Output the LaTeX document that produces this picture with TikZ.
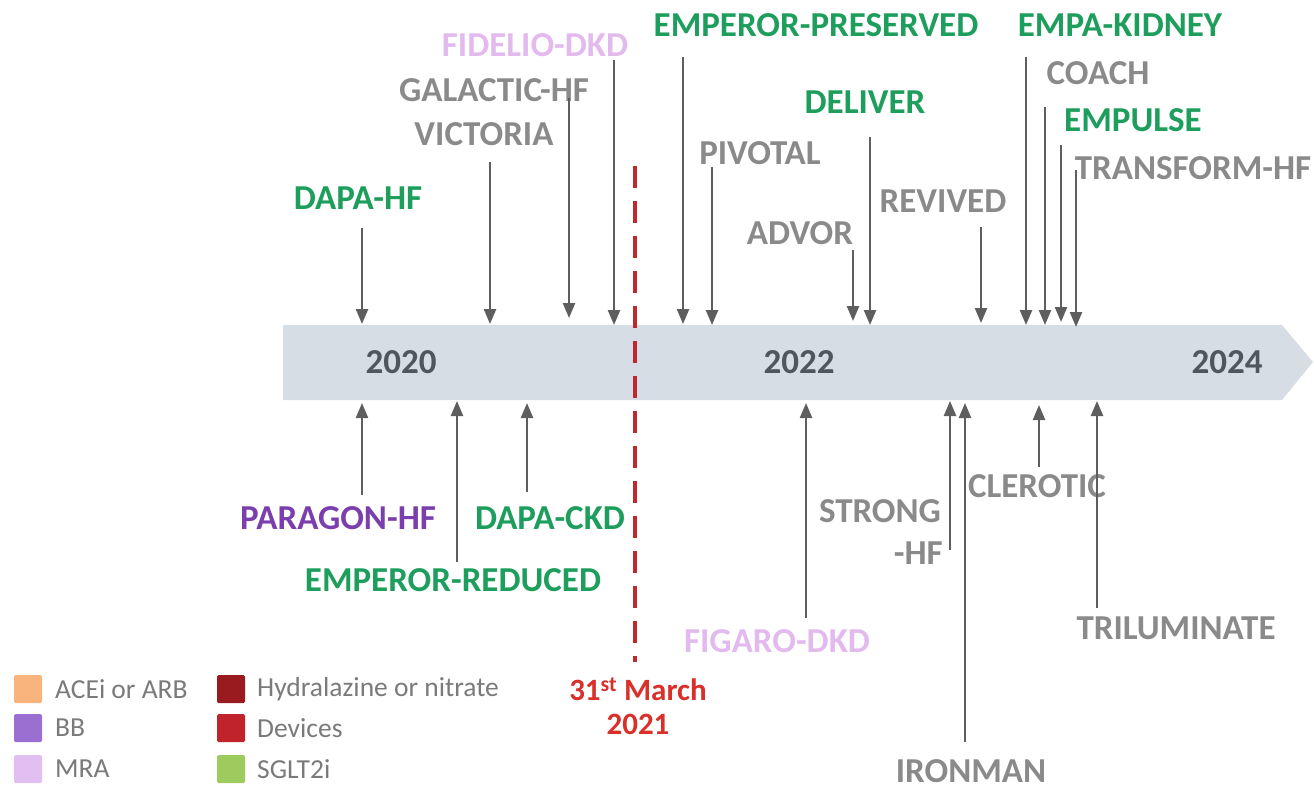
\documentclass[tikz,border=0pt]{standalone}
\usepackage{fontspec}
\setmainfont{Carlito}
\usetikzlibrary{arrows.meta}
\definecolor{bandfill}{HTML}{D6DDE4}
\definecolor{yeargray}{HTML}{4F565E}
\definecolor{txtgray}{HTML}{8A8A8A}
\definecolor{arrgray}{HTML}{5E5E5E}
\definecolor{trialgreen}{HTML}{1E9E5C}
\definecolor{trialpurple}{HTML}{7A3FAD}
\definecolor{trialpink}{HTML}{E2BAEE}
\definecolor{datered}{HTML}{D9302A}
\definecolor{dashred}{HTML}{C0282D}
\definecolor{legtxt}{HTML}{7A7A7A}
\definecolor{cAce}{HTML}{F8B47C}
\definecolor{cBb}{HTML}{9B6FD2}
\definecolor{cMra}{HTML}{E2BFF3}
\definecolor{cHyd}{HTML}{991B20}
\definecolor{cDev}{HTML}{C1232A}
\definecolor{cSglt}{HTML}{9DCB5E}
\tikzset{
  trial/.style={font=\fontsize{35}{38}\selectfont\bfseries, text=txtgray, inner sep=0pt},
  grn/.style={trial, text=trialgreen},
  pur/.style={trial, text=trialpurple},
  pnk/.style={trial, text=trialpink},
  year/.style={font=\fontsize{35}{38}\selectfont\bfseries, text=yeargray, inner sep=0pt},
  arr/.style={draw=arrgray, line width=2.4pt, -{Triangle[width=12pt,length=15pt]}},
  legbox/.style={minimum width=28pt, minimum height=28pt, inner sep=0pt, rounded corners=1.5pt},
  legtext/.style={font=\fontsize{27.5}{30}\selectfont, text=legtxt, anchor=west, inner sep=0pt},
}
\begin{document}
\begin{tikzpicture}[x=1pt,y=-1pt]
\useasboundingbox (0,0) rectangle (1314,789);

% timeline band
\fill[bandfill] (283,325) -- (1282,325) -- (1313,362) -- (1282,400) -- (283,400) -- cycle;
\node[year] (y2020) at (401,362) {2020};
\node[year] (y2022) at (799,362) {2022};
\node[year] (y2024) at (1227,362) {2024};

% cut-off date
\coordinate (cutA) at (635,166);
\coordinate (cutB) at (635,662);
\draw[dashred, line width=3.5pt, dash pattern=on 22pt off 13pt] (cutA) -- (cutB);
\node[font=\fontsize{31}{34}\selectfont\bfseries, text=datered, inner sep=0pt] (cutdate) at (638,689) {31\textsuperscript{st} March};
\node[font=\fontsize{31}{34}\selectfont\bfseries, text=datered, inner sep=0pt] (cutyear) at (638,724) {2021};

% trials above the band
\node[grn] (dapahf) at (358,198) {DAPA-HF};
\coordinate (dapahfA) at (362,228); \coordinate (dapahfB) at (362,324);
\draw[arr] (dapahfA) -- (dapahfB);

\node[trial] (victoria) at (484,134) {VICTORIA};
\coordinate (victoriaA) at (490,162); \coordinate (victoriaB) at (490,324);
\draw[arr] (victoriaA) -- (victoriaB);

\node[trial] (galactic) at (494,90) {GALACTIC-HF};
\coordinate (galacticA) at (569,98); \coordinate (galacticB) at (569,318);
\draw[arr] (galacticA) -- (galacticB);

\node[pnk] (fidelio) at (535,45) {FIDELIO-DKD};
\coordinate (fidelioA) at (614,60); \coordinate (fidelioB) at (614,325);
\draw[arr] (fidelioA) -- (fidelioB);

\node[grn] (emppres) at (816,25) {EMPEROR-PRESERVED};
\coordinate (emppresA) at (683,57); \coordinate (emppresB) at (683,324);
\draw[arr] (emppresA) -- (emppresB);

\node[trial] (pivotal) at (760,153) {PIVOTAL};
\coordinate (pivotalA) at (712,167); \coordinate (pivotalB) at (712,325);
\draw[arr] (pivotalA) -- (pivotalB);

\node[grn] (deliver) at (865,102) {DELIVER};
\coordinate (deliverA) at (870,137); \coordinate (deliverB) at (870,325);
\draw[arr] (deliverA) -- (deliverB);

\node[trial] (advor) at (800,233) {ADVOR};
\coordinate (advorA) at (853,250); \coordinate (advorB) at (853,321);
\draw[arr] (advorA) -- (advorB);

\node[trial] (revived) at (943,201) {REVIVED};
\coordinate (revivedA) at (981,227); \coordinate (revivedB) at (981,323);
\draw[arr] (revivedA) -- (revivedB);

\node[grn] (empakid) at (1120,25) {EMPA-KIDNEY};
\coordinate (empakidA) at (1026,57); \coordinate (empakidB) at (1026,325);
\draw[arr] (empakidA) -- (empakidB);

\node[trial] (coach) at (1098,73) {COACH};
\coordinate (coachA) at (1045,107); \coordinate (coachB) at (1045,325);
\draw[arr] (coachA) -- (coachB);

\node[grn] (empulse) at (1133,120) {EMPULSE};
\coordinate (empulseA) at (1061,145); \coordinate (empulseB) at (1061,322);
\draw[arr] (empulseA) -- (empulseB);

\node[trial] (transform) at (1193,168) {TRANSFORM-HF};
\coordinate (transformA) at (1076,170); \coordinate (transformB) at (1076,327);
\draw[arr] (transformA) -- (transformB);

% trials below the band
\node[pur] (paragon) at (338,518) {PARAGON-HF};
\coordinate (paragonA) at (362,495); \coordinate (paragonB) at (362,403);
\draw[arr] (paragonA) -- (paragonB);

\node[grn] (empred) at (453,580) {EMPEROR-REDUCED};
\coordinate (empredA) at (457,562); \coordinate (empredB) at (457,401);
\draw[arr] (empredA) -- (empredB);

\node[grn] (dapackd) at (550,518) {DAPA-CKD};
\coordinate (dapackdA) at (527,492); \coordinate (dapackdB) at (527,403);
\draw[arr] (dapackdA) -- (dapackdB);

\node[pnk] (figaro) at (777,641) {FIGARO-DKD};
\coordinate (figaroA) at (806,618); \coordinate (figaroB) at (806,403);
\draw[arr] (figaroA) -- (figaroB);

\node[trial] (strong) at (880,511) {STRONG};
\node[trial, anchor=east] (stronghf) at (943,553) {-HF};
\coordinate (strongA) at (950,550); \coordinate (strongB) at (950,401);
\draw[arr] (strongA) -- (strongB);

\node[trial] (ironman) at (971,771) {IRONMAN};
\coordinate (ironmanA) at (965,742); \coordinate (ironmanB) at (965,403);
\draw[arr] (ironmanA) -- (ironmanB);

\node[trial] (clerotic) at (1037,486) {CLEROTIC};
\coordinate (cleroticA) at (1039,467); \coordinate (cleroticB) at (1039,405);
\draw[arr] (cleroticA) -- (cleroticB);

\node[trial] (trilum) at (1176,628) {TRILUMINATE};
\coordinate (trilumA) at (1097,608); \coordinate (trilumB) at (1097,401);
\draw[arr] (trilumA) -- (trilumB);

% legend
\node[legbox, fill=cAce] (kAce) at (28,689) {};
\node[legtext] (tAce) at (55,689) {ACEi or ARB};
\node[legbox, fill=cBb] (kBb) at (28,728) {};
\node[legtext] (tBb) at (55,728) {BB};
\node[legbox, fill=cMra] (kMra) at (28,769) {};
\node[legtext] (tMra) at (55,769) {MRA};
\node[legbox, fill=cHyd] (kHyd) at (231,689) {};
\node[legtext] (tHyd) at (257,689) {Hydralazine or nitrate};
\node[legbox, fill=cDev] (kDev) at (231,728) {};
\node[legtext] (tDev) at (257,728) {Devices};
\node[legbox, fill=cSglt] (kSglt) at (231,769) {};
\node[legtext] (tSglt) at (257,769) {SGLT2i};
\end{tikzpicture}
\end{document}
